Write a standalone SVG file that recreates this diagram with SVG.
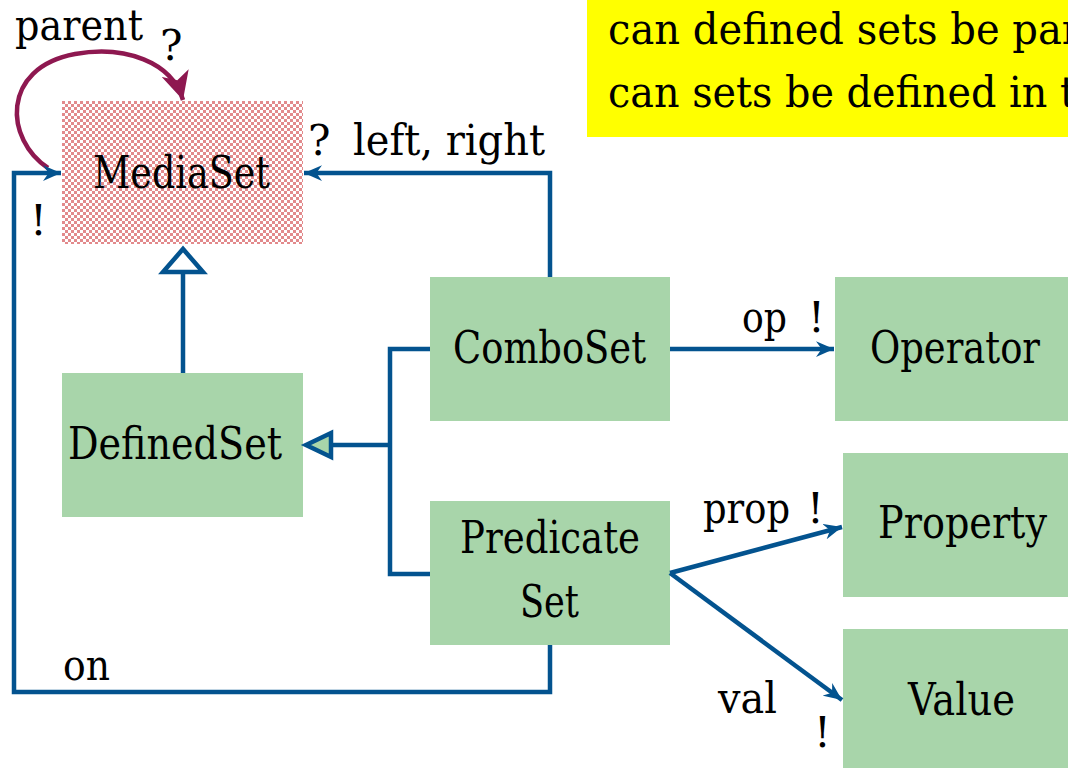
<svg xmlns="http://www.w3.org/2000/svg" width="1068" height="768" viewBox="0 0 1068 768">
<style>
text{font-family:"DejaVu Serif","Liberation Serif",serif;fill:#000;}
.nt{font-size:44px;}
.lb{font-size:42px;}
.box{fill:#a8d5aa;}
.c{fill:none;stroke:#03538f;stroke-width:4.5;stroke-linejoin:miter;}
</style>
<defs>
<pattern id="chk" width="6" height="6" patternUnits="userSpaceOnUse" x="62" y="101">
<rect width="6" height="6" fill="#ffffff"/>
<rect width="3" height="3" fill="#e28a8c"/>
<rect x="3" y="3" width="3" height="3" fill="#e28a8c"/>
</pattern>
<marker id="arr" viewBox="0 0 16 14" refX="16" refY="7" markerWidth="18" markerHeight="16" markerUnits="userSpaceOnUse" orient="auto">
<path d="M0,0 L16,7 L0,14 L5,7 z" fill="#03538f"/>
</marker>
<marker id="arrp" viewBox="0 0 26 26" refX="26" refY="13" markerWidth="28" markerHeight="28" markerUnits="userSpaceOnUse" orient="auto">
<path d="M0,0 L26,13 L0,26 L7,13 z" fill="#8e1850"/>
</marker>
</defs>
<rect width="1068" height="768" fill="#ffffff"/>
<g id="note">
<rect x="587" y="0" width="481" height="137" fill="#ffff00"/>
<text class="lb" x="608" y="44" textLength="473" lengthAdjust="spacingAndGlyphs">can defined sets be par</text>
<text class="lb" x="608" y="107" textLength="468" lengthAdjust="spacingAndGlyphs">can sets be defined in t</text>
</g>
<g id="MediaSet">
<rect x="62" y="101" width="241" height="143" fill="url(#chk)"/>
<text class="nt" x="93" y="188" textLength="177" lengthAdjust="spacingAndGlyphs">MediaSet</text>
</g>
<g id="DefinedSet">
<rect class="box" x="62" y="373" width="241" height="144"/>
<text class="nt" x="68" y="459" textLength="214" lengthAdjust="spacingAndGlyphs">DefinedSet</text>
</g>
<g id="ComboSet">
<rect class="box" x="430" y="277" width="240" height="144"/>
<text class="nt" x="453" y="363" textLength="193" lengthAdjust="spacingAndGlyphs">ComboSet</text>
</g>
<g id="PredicateSet">
<rect class="box" x="430" y="501" width="240" height="144"/>
<text class="nt" x="460" y="553" textLength="180" lengthAdjust="spacingAndGlyphs">Predicate</text>
<text class="nt" x="520" y="617" textLength="59" lengthAdjust="spacingAndGlyphs">Set</text>
</g>
<g id="Operator">
<rect class="box" x="835" y="277" width="233" height="144"/>
<text class="nt" x="870" y="363" textLength="170" lengthAdjust="spacingAndGlyphs">Operator</text>
</g>
<g id="Property">
<rect class="box" x="843" y="453" width="225" height="144"/>
<text class="nt" x="878" y="538" textLength="169" lengthAdjust="spacingAndGlyphs">Property</text>
</g>
<g id="Value">
<rect class="box" x="843" y="629" width="225" height="139"/>
<text class="nt" x="908" y="715" textLength="107" lengthAdjust="spacingAndGlyphs">Value</text>
</g>
<g id="connectors">
<path d="M48,168 C5,140 0,68 75,54 C125,45 172,62 183,100" fill="none" stroke="#8e1850" stroke-width="4.5" marker-end="url(#arrp)"/>
<path class="c" d="M550,277 V173 H304" marker-end="url(#arr)"/>
<path class="c" d="M183,373 V272"/>
<polygon points="183,249 163,272 203,272" fill="#ffffff" stroke="#03538f" stroke-width="4.5"/>
<path class="c" d="M430,349 H390 V574 H430"/>
<path class="c" d="M390,445 H331"/>
<polygon points="306,445 331,433 331,457" fill="#a8d5aa" stroke="#03538f" stroke-width="4.5"/>
<path class="c" d="M550,645 V692 H14 V173 H61" marker-end="url(#arr)"/>
<path class="c" d="M670,349 H834" marker-end="url(#arr)"/>
<path class="c" d="M670,573 L842,527" marker-end="url(#arr)"/>
<path class="c" d="M670,573 L842,700" marker-end="url(#arr)"/>
<text class="lb" x="15" y="40" textLength="128" lengthAdjust="spacingAndGlyphs">parent</text>
<text class="lb" x="160" y="60">?</text>
<text class="lb" x="308" y="155">?</text>
<text class="lb" x="353" y="155" textLength="192" lengthAdjust="spacingAndGlyphs">left, right</text>
<text class="lb" x="30" y="235">!</text>
<text class="lb" x="742" y="332" textLength="45" lengthAdjust="spacingAndGlyphs">op</text>
<text class="lb" x="808" y="332">!</text>
<text class="lb" x="703" y="523" textLength="87" lengthAdjust="spacingAndGlyphs">prop</text>
<text class="lb" x="807" y="523">!</text>
<text class="lb" x="718" y="713" textLength="59" lengthAdjust="spacingAndGlyphs">val</text>
<text class="lb" x="814" y="747">!</text>
<text class="lb" x="63" y="680" textLength="47" lengthAdjust="spacingAndGlyphs">on</text>
</g>
</svg>
